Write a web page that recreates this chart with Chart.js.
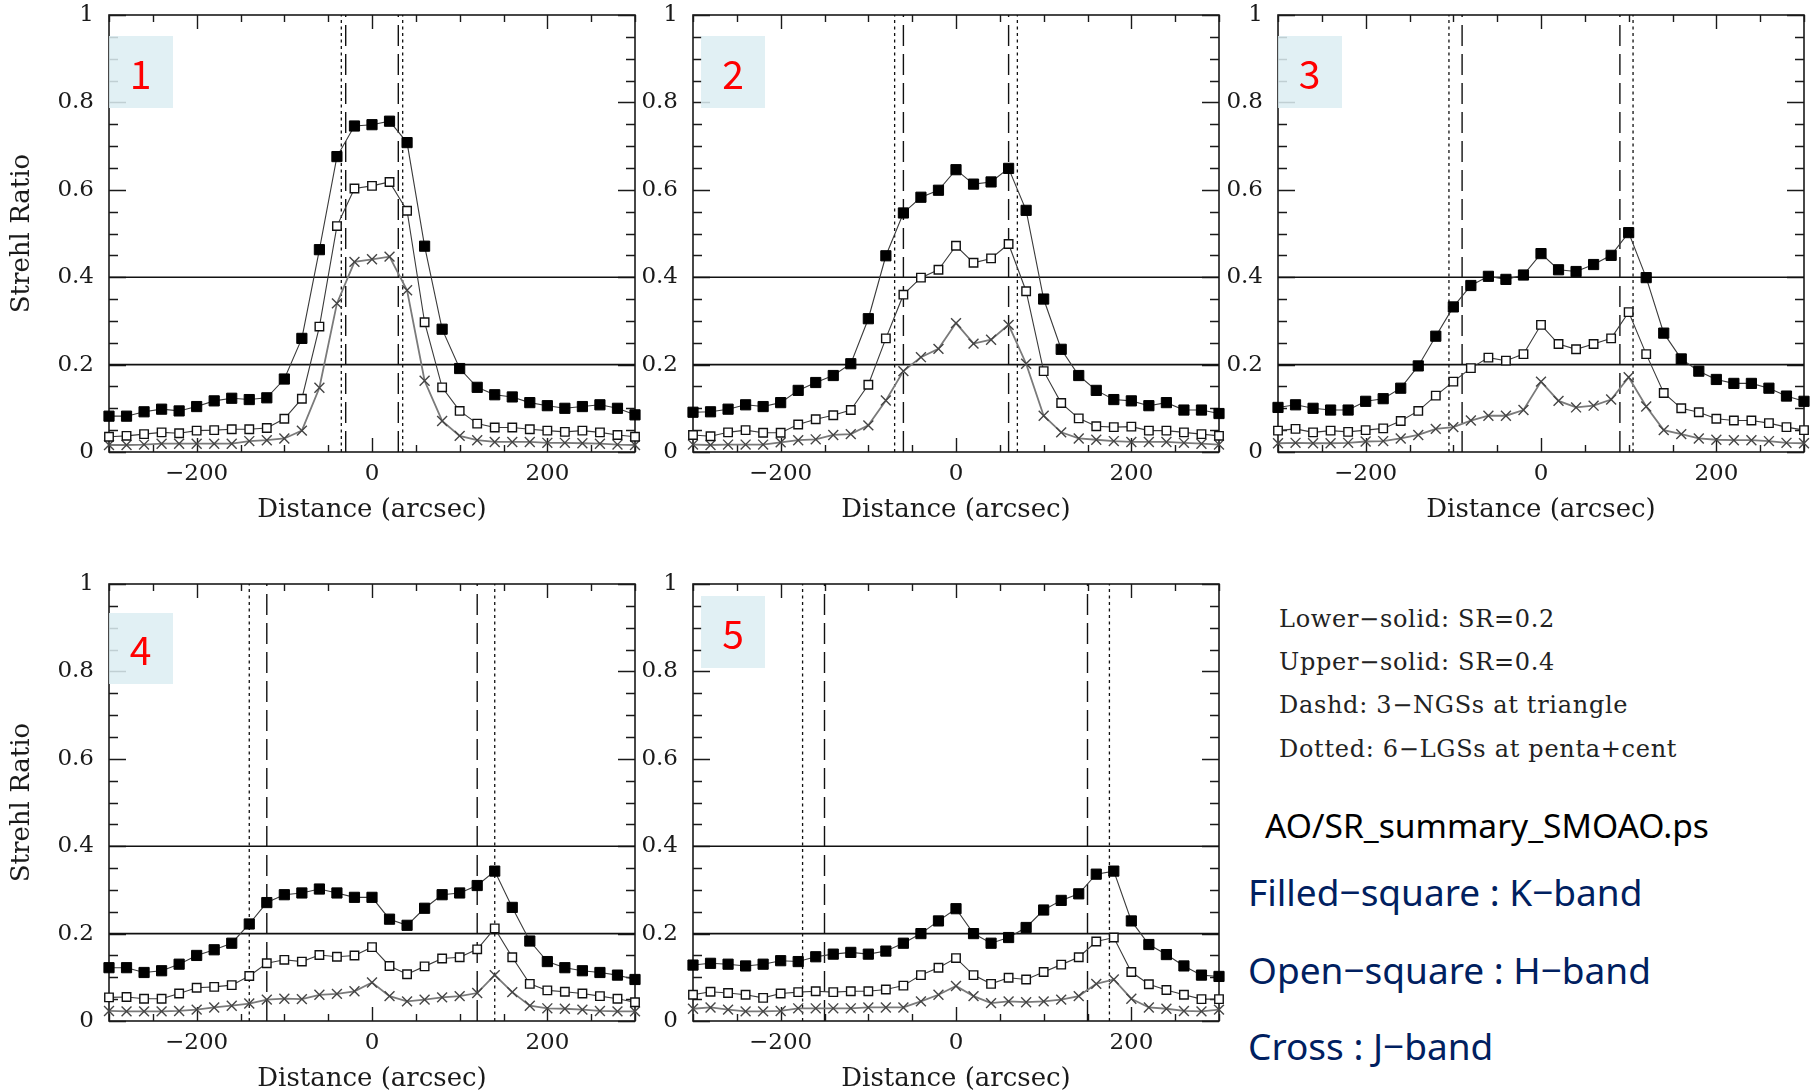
<!DOCTYPE html>
<html>
<head>
<meta charset="utf-8">
<script src="https://cdn.jsdelivr.net/npm/chart.js@4.4.1/dist/chart.umd.min.js"></script>
<style>
html,body{margin:0;padding:0;background:#fff;overflow:hidden;width:1815px;height:1091px;position:relative;}
canvas{position:absolute;}
.badge{position:absolute;background:rgba(220,237,242,0.86);color:#ff0000;font-family:'Noto Sans CJK JP','Noto Sans',sans-serif;font-size:39px;display:flex;align-items:center;justify-content:center;line-height:1;}
.note{position:absolute;white-space:nowrap;}
.serif{font-family:'DejaVu Serif',serif;font-size:24px;line-height:30px;color:#222;letter-spacing:0.7px;}
.file{font-family:'Noto Sans','Noto Sans CJK JP',sans-serif;font-size:33.6px;line-height:40px;color:#000;}
.band{font-family:'Noto Sans','Noto Sans CJK JP',sans-serif;font-size:37px;line-height:44px;color:#002060;}
</style>
</head>
<body>
<div id="wrap"></div>

<div class="note serif" style="left:1279px;top:604px;">Lower−solid: SR=0.2</div>
<div class="note serif" style="left:1279px;top:647px;">Upper−solid: SR=0.4</div>
<div class="note serif" style="left:1279px;top:690px;">Dashd: 3−NGSs at triangle</div>
<div class="note serif" style="left:1279px;top:734px;">Dotted: 6−LGSs at penta+cent</div>
<div class="note file" style="left:1265px;top:805px;">AO/SR_summary_SMOAO.ps</div>
<div class="note band" style="left:1248px;top:870px;">Filled−square : K−band</div>
<div class="note band" style="left:1248px;top:948px;">Open−square : H−band</div>
<div class="note band" style="left:1248px;top:1024px;">Cross : J−band</div>

<script>
// ---------------- data ----------------
const distance = [-300,-280,-260,-240,-220,-200,-180,-160,-140,-120,-100,-80,-60,-40,-20,0,20,40,60,80,100,120,140,160,180,200,220,240,260,280,300];

const panelLabels = ['1','2','3','4','5'];

const kBand1 = [0.082,0.082,0.092,0.098,0.094,0.104,0.117,0.123,0.120,0.124,0.167,0.260,0.463,0.676,0.746,0.749,0.757,0.708,0.471,0.281,0.191,0.148,0.131,0.126,0.113,0.106,0.100,0.104,0.108,0.100,0.085];
const hBand1 = [0.035,0.037,0.041,0.045,0.043,0.049,0.050,0.052,0.052,0.055,0.076,0.122,0.287,0.517,0.603,0.609,0.618,0.552,0.297,0.148,0.094,0.065,0.056,0.056,0.052,0.049,0.046,0.049,0.045,0.039,0.035];
const jBand1 = [0.016,0.016,0.017,0.019,0.019,0.019,0.019,0.019,0.025,0.027,0.031,0.049,0.147,0.340,0.435,0.441,0.447,0.370,0.163,0.071,0.037,0.027,0.023,0.023,0.023,0.021,0.021,0.020,0.019,0.017,0.016];

const kBand2 = [0.091,0.092,0.098,0.108,0.104,0.113,0.141,0.159,0.175,0.202,0.305,0.449,0.547,0.583,0.599,0.646,0.613,0.618,0.649,0.553,0.350,0.235,0.175,0.141,0.120,0.117,0.106,0.113,0.096,0.096,0.088];
const hBand2 = [0.039,0.036,0.045,0.050,0.044,0.044,0.063,0.075,0.084,0.096,0.154,0.260,0.360,0.399,0.417,0.472,0.433,0.443,0.476,0.368,0.185,0.112,0.077,0.059,0.057,0.058,0.049,0.049,0.045,0.041,0.037];
const jBand2 = [0.017,0.016,0.017,0.017,0.017,0.022,0.027,0.029,0.039,0.041,0.061,0.118,0.185,0.217,0.236,0.295,0.248,0.257,0.291,0.202,0.083,0.045,0.031,0.028,0.025,0.023,0.023,0.023,0.021,0.019,0.017];

const kBand3 = [0.102,0.108,0.100,0.096,0.096,0.116,0.122,0.146,0.197,0.265,0.332,0.381,0.402,0.395,0.405,0.454,0.417,0.413,0.429,0.450,0.502,0.399,0.272,0.213,0.185,0.166,0.157,0.157,0.146,0.128,0.116];
const hBand3 = [0.049,0.053,0.045,0.049,0.046,0.050,0.054,0.071,0.094,0.129,0.161,0.192,0.216,0.209,0.224,0.291,0.247,0.235,0.247,0.260,0.320,0.224,0.135,0.100,0.091,0.076,0.072,0.072,0.066,0.057,0.050];
const jBand3 = [0.020,0.021,0.020,0.020,0.021,0.024,0.025,0.031,0.039,0.053,0.057,0.072,0.083,0.083,0.096,0.161,0.117,0.102,0.106,0.120,0.171,0.104,0.050,0.041,0.031,0.028,0.027,0.027,0.025,0.021,0.020];

const kBand4 = [0.122,0.122,0.111,0.115,0.130,0.150,0.163,0.178,0.222,0.271,0.289,0.293,0.302,0.293,0.283,0.283,0.233,0.219,0.258,0.289,0.293,0.310,0.343,0.260,0.183,0.136,0.122,0.115,0.111,0.105,0.095];
const hBand4 = [0.054,0.055,0.051,0.051,0.063,0.076,0.078,0.082,0.103,0.132,0.140,0.136,0.151,0.147,0.150,0.169,0.126,0.107,0.125,0.143,0.146,0.164,0.212,0.146,0.085,0.070,0.067,0.063,0.057,0.051,0.043];
const jBand4 = [0.023,0.022,0.022,0.022,0.023,0.026,0.031,0.035,0.040,0.049,0.051,0.050,0.060,0.062,0.068,0.088,0.057,0.045,0.049,0.054,0.057,0.064,0.105,0.066,0.035,0.029,0.028,0.026,0.023,0.022,0.022];

const kBand5 = [0.128,0.132,0.130,0.126,0.130,0.138,0.136,0.147,0.153,0.157,0.153,0.160,0.178,0.200,0.229,0.257,0.200,0.178,0.191,0.214,0.254,0.276,0.291,0.336,0.343,0.229,0.175,0.152,0.126,0.105,0.102];
const hBand5 = [0.060,0.067,0.064,0.060,0.053,0.063,0.066,0.068,0.066,0.068,0.068,0.072,0.081,0.105,0.122,0.144,0.105,0.085,0.099,0.095,0.112,0.129,0.146,0.182,0.191,0.112,0.084,0.071,0.060,0.050,0.050];
const jBand5 = [0.028,0.031,0.026,0.022,0.022,0.023,0.029,0.029,0.029,0.029,0.031,0.031,0.031,0.045,0.060,0.080,0.057,0.041,0.045,0.043,0.045,0.049,0.057,0.085,0.095,0.051,0.031,0.028,0.023,0.022,0.026];

// guide-star offsets (arcsec) per panel
const ngsOffset = [30, 60, 90, 120, 150];   // dashed: 3 NGSs at triangle
const lgsOffset = [35, 70, 105, 140, 175];  // dotted: 6 LGSs at penta+cent
const srLevels = [0.2, 0.4];                // solid horizontal lines

const xTickLabels = [-200, 0, 200];
const yTickLabels = [0, 0.2, 0.4, 0.6, 0.8, 1];
const xLabel = 'Distance (arcsec)';
const yLabel = 'Strehl Ratio';

// ---------------- layout ----------------
const PLOT_W = 526, PLOT_H = 437, PAD_L = 108, PAD_T = 30, PAD_R = 20, PAD_B = 80;
const panels = [
  {left:108.5, top:15,  k:kBand1, h:hBand1, j:jBand1, yTitle:true},
  {left:693,   top:15,  k:kBand2, h:hBand2, j:jBand2, yTitle:false},
  {left:1277.5,top:15,  k:kBand3, h:hBand3, j:jBand3, yTitle:false},
  {left:108.5, top:583.5, k:kBand4, h:hBand4, j:jBand4, yTitle:true},
  {left:693,   top:583.5, k:kBand5, h:hBand5, j:jBand5, yTitle:false}
];
const badgeBoxes = [
  {l:108.7, t:36,    w:64, h:72},
  {l:701,   t:36,    w:64, h:72},
  {l:1277.5,t:36,    w:64, h:72},
  {l:108.7, t:612.5, w:64, h:71},
  {l:701,   t:596,   w:64, h:72}
];

Chart.defaults.font.family = "'DejaVu Serif', serif";
Chart.defaults.color = '#1a1a1a';

const fmt = v => {
  if (v === 0) return '0';
  if (v === 1) return '1';
  const s = Math.abs(v) >= 10 ? String(Math.abs(Math.round(v))) : Math.abs(v).toFixed(1);
  return (v < 0 ? '\u2212' : '') + s;
};

const frameTicks = {
  id: 'frameTicks',
  beforeDatasetsDraw(chart) {
    const {ctx, chartArea: a, scales: {x, y}} = chart;
    ctx.save();
    ctx.strokeStyle = '#1a1a1a';
    ctx.lineWidth = 1.6;
    ctx.strokeRect(a.left, a.top, a.right - a.left, a.bottom - a.top);
    ctx.lineWidth = 1.4;
    ctx.beginPath();
    for (let i = 0; i <= 20; i++) {
      const py = Math.round(y.getPixelForValue(i * 0.05)) + 0.5;
      const len = (i % 4 === 0) ? 17 : 9;
      ctx.moveTo(a.left, py); ctx.lineTo(a.left + len, py);
      ctx.moveTo(a.right, py); ctx.lineTo(a.right - len, py);
    }
    for (let i = 0; i <= 12; i++) {
      const v = -300 + i * 50;
      const px = Math.round(x.getPixelForValue(v)) + 0.5;
      const len = (v % 200 === 0) ? 14 : 7;
      ctx.moveTo(px, a.top); ctx.lineTo(px, a.top + len);
      ctx.moveTo(px, a.bottom); ctx.lineTo(px, a.bottom - len);
    }
    ctx.stroke();
    ctx.restore();
  }
};

function series(vals, style) {
  return Object.assign({
    data: distance.map((d, i) => ({x: d, y: vals[i]})),
    tension: 0, clip: false, fill: false
  }, style);
}
function guide(points, dash, width) {
  return {data: points, borderColor: '#111', borderWidth: width, borderDash: dash,
          pointRadius: 0, fill: false, tension: 0};
}

const wrap = document.getElementById('wrap');
panels.forEach((p, idx) => {
  const cv = document.createElement('canvas');
  const W = PAD_L + PLOT_W + PAD_R, H = PAD_T + PLOT_H + PAD_B;
  cv.width = W; cv.height = H;
  cv.style.left = (p.left - PAD_L) + 'px';
  cv.style.top = (p.top - PAD_T) + 'px';
  cv.style.width = W + 'px'; cv.style.height = H + 'px';
  wrap.appendChild(cv);

  const ngs = ngsOffset[idx], lgs = lgsOffset[idx];
  const datasets = [
    series(p.k, {label:'K', borderColor:'#3a3a3a', borderWidth:1.1, pointStyle:'rect', pointRadius:7.2,
                 pointBackgroundColor:'#000', pointBorderColor:'#000', pointBorderWidth:1}),
    series(p.h, {label:'H', borderColor:'#3a3a3a', borderWidth:1.1, pointStyle:'rect', pointRadius:6,
                 pointBackgroundColor:'#fff', pointBorderColor:'#111', pointBorderWidth:1.4}),
    series(p.j, {label:'J', borderColor:'#7a7a7a', borderWidth:1.8, pointStyle:'crossRot', pointRadius:7,
                 pointBorderColor:'#444', pointBorderWidth:1.4}),
    ...srLevels.map(v => guide([{x:-300, y:v}, {x:300, y:v}], [], 1.6)),
    guide([{x:-ngs, y:0}, {x:-ngs, y:1}], [21, 8], 1.4),
    guide([{x: ngs, y:0}, {x: ngs, y:1}], [21, 8], 1.4),
    guide([{x:-lgs, y:0}, {x:-lgs, y:1}], [3, 3.5], 1.3),
    guide([{x: lgs, y:0}, {x: lgs, y:1}], [3, 3.5], 1.3)
  ];

  new Chart(cv, {
    type: 'line',
    data: {datasets},
    options: {
      responsive: false, animation: false, devicePixelRatio: 1,
      layout: {padding: {left: 0, top: PAD_T, right: PAD_R, bottom: 0}},
      plugins: {legend: {display: false}, tooltip: {enabled: false}},
      scales: {
        x: {
          type: 'linear', min: -300, max: 300,
          grid: {display: false, drawTicks: false}, border: {display: false},
          afterBuildTicks: s => { s.ticks = xTickLabels.map(v => ({value: v})); },
          afterFit: s => { s.height = PAD_B; },
          ticks: {padding: 8, font: {size: 23}, color: '#1a1a1a', maxRotation: 0, callback: v => fmt(v)},
          title: {display: true, text: xLabel, font: {size: 26}, color: '#1a1a1a', padding: {top: 0, bottom: 6}}
        },
        y: {
          type: 'linear', min: 0, max: 1,
          grid: {display: false, drawTicks: false}, border: {display: false},
          afterBuildTicks: s => { s.ticks = yTickLabels.map(v => ({value: v})); },
          afterFit: s => { s.width = PAD_L; },
          ticks: {padding: 15, font: {size: 23}, color: '#1a1a1a', callback: v => fmt(v)},
          title: {display: p.yTitle, text: yLabel, font: {size: 26}, color: '#1a1a1a', padding: {top: 6, bottom: 0}}
        }
      }
    },
    plugins: [frameTicks]
  });

  const b = badgeBoxes[idx];
  const d = document.createElement('div');
  d.className = 'badge';
  d.style.left = b.l + 'px'; d.style.top = b.t + 'px';
  d.style.width = b.w + 'px'; d.style.height = b.h + 'px';
  d.textContent = panelLabels[idx];
  document.body.appendChild(d);
});
</script>
</body>
</html>
